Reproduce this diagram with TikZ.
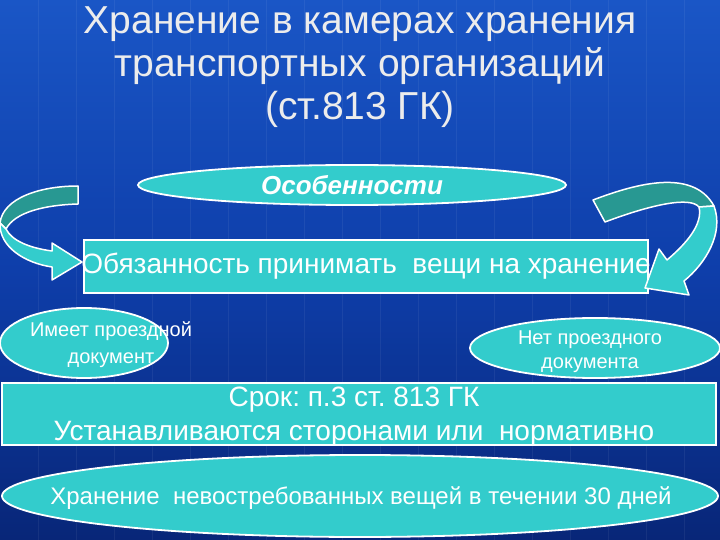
\documentclass[tikz,border=0pt]{standalone}
\usepackage{fontspec}
\setmainfont{Liberation Sans}
\usetikzlibrary{shapes.geometric}
\frenchspacing
\definecolor{bgtop}{RGB}{26,86,198}
\definecolor{bgmid}{RGB}{14,62,170}
\definecolor{bgbot}{RGB}{8,38,120}
\definecolor{cyanfill}{RGB}{51,204,204}
\definecolor{tealdark}{RGB}{40,152,146}
\definecolor{titlecol}{RGB}{236,236,236}
\begin{document}
\begin{tikzpicture}[x=1pt,y=-1pt,
  bord/.style={draw=white,line width=1.8pt},
  ell/.style={ellipse,bord,fill=cyanfill,inner sep=0pt},
  boxstyle/.style={rectangle,bord,fill=cyanfill,inner sep=0pt},
  txt/.style={text=white,align=center,inner sep=0pt},
  arrowdark/.style={fill=tealdark,draw=white,line width=1.5pt,line join=round},
  arrowlight/.style={fill=cyanfill,draw=white,line width=1.5pt,line join=round}]
\useasboundingbox (0,0) rectangle (720,540);
\shade[top color=bgtop,bottom color=bgbot,middle color=bgmid] (0,0) rectangle (720,540);
% faint grid
\foreach \gx in {38,76,...,720} {\draw[white,opacity=0.06,line width=0.8pt] (\gx,0) -- (\gx,540);}

% title
\node[text=titlecol,align=center,inner sep=0pt,font=\fontsize{39}{43}\selectfont] (title) at (360,67)
  {Хранение в камерах хранения\\транспортных организаций\\(ст.813 ГК)};

% Особенности
\node[ell,minimum width=428pt,minimum height=40pt] (feat) at (352,185) {};
\node[txt,font=\fontsize{26}{28}\selectfont\bfseries\itshape] (featText) at (feat.center) {Особенности};

% duty box
\node[boxstyle,minimum width=564pt,minimum height=53pt] (duty) at (366,266.5) {};

% left arrow
\coordinate (la1) at (78,186);
\coordinate (la2) at (78,204);
\fill[arrowdark] (la1) -- (la2) .. controls (45,205) and (15,212) .. (6,229)
   -- (0,223) .. controls (3,198) and (40,186) .. (la1) -- cycle;
\fill[arrowlight] (0,223) .. controls (-1,247) and (25,263) .. (52,267)
   -- (52,280) -- (82,262) -- (52,243) -- (52,251)
   .. controls (30,248) and (12,241) .. (6,229) -- cycle;

% right arrow
\fill[arrowdark] (593,200) .. controls (630,186) and (692,166) .. (714,206)
   -- (699,207) .. controls (690,196) and (650,205) .. (605,222) -- cycle;
\fill[arrowlight] (714,206) .. controls (724,233) and (706,263) .. (684,281)
   -- (689,295) -- (645,288) -- (659,249) -- (667,260)
   .. controls (687,243) and (703,224) .. (699,207) -- cycle;

\node[txt,font=\fontsize{28}{32}\selectfont] (dutyText) at (duty.center)
  {Обязанность принимать\ \ вещи на хранение};

% small ellipses
\node[ell,minimum width=168pt,minimum height=70pt] (has) at (84,343) {};
\node[txt,font=\fontsize{20}{27}\selectfont] (hasText) at (111,345)
  {Имеет проездной\\документ};
\node[ell,minimum width=250pt,minimum height=60pt] (hasnot) at (595,348) {};
\node[txt,font=\fontsize{20}{24}\selectfont] (hasnotText) at (590,352)
  {Нет проездного\\документа};

% term box
\node[boxstyle,minimum width=714pt,minimum height=62pt] (term) at (359,414) {};
\node[txt,font=\fontsize{28}{34}\selectfont] (termText) at (354,417)
  {Срок: п.3 ст. 813 ГК\\Устанавливаются сторонами или\ \ нормативно};

% bottom ellipse
\node[ell,minimum width=716pt,minimum height=82pt] (store) at (360,496) {};
\node[txt,font=\fontsize{24}{26}\selectfont] (storeText) at (361,498)
  {Хранение\ \ невостребованных вещей в течении 30 дней};
\end{tikzpicture}
\end{document}
